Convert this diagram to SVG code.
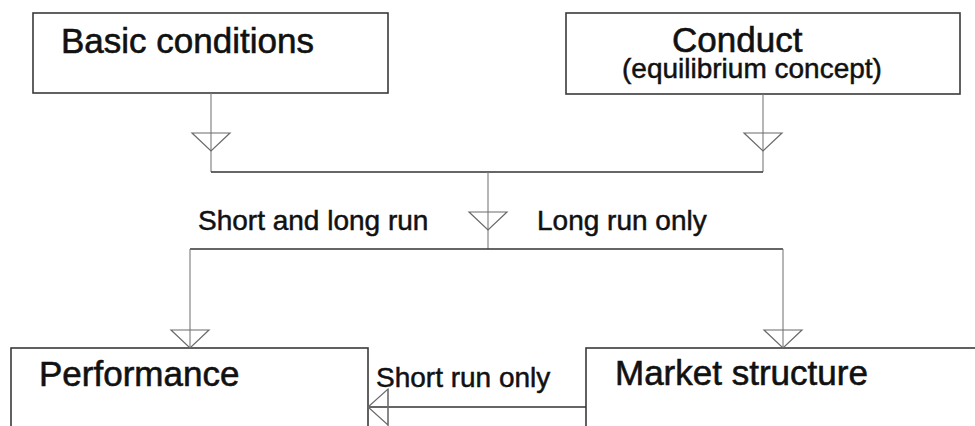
<svg xmlns="http://www.w3.org/2000/svg" xmlns:xlink="http://www.w3.org/1999/xlink" width="975" height="426" viewBox="0 0 975 426">
<style>
.box{fill:#fff;stroke:#3a3a3a;stroke-width:1.6}
.big{font-family:"Liberation Sans",Arial,sans-serif;font-size:35px;fill:#111;stroke:#111;stroke-width:0.6}
.lbl{font-family:"Liberation Sans",Arial,sans-serif;font-size:28px;fill:#111;stroke:#111;stroke-width:0.5}
.sub{font-family:"Liberation Sans",Arial,sans-serif;font-size:28px;fill:#111;stroke:#111;stroke-width:0.5}
.h{fill:none;stroke:#333;stroke-width:1.6}
.v{fill:none;stroke:#7a7a7a;stroke-width:1.1}
.tri{fill:none;stroke:#6a6a6a;stroke-width:1.2}
</style>
<defs>
<polygon id="triDown" class="tri" points="-19,-18 19,-18 0,0"/>
<polygon id="triLeft" class="tri" points="20,-18 20,18 0,0"/>
</defs>
<rect width="975" height="426" fill="#fff"/>
<g id="basic-conditions">
<rect class="box" x="33" y="13" width="355" height="80"/>
<text class="big" x="61" y="53">Basic conditions</text>
</g>
<g id="conduct">
<rect class="box" x="566" y="13" width="394" height="81"/>
<text class="big" x="672" y="52">Conduct</text>
<text class="sub" x="622" y="78">(equilibrium concept)</text>
</g>
<g id="performance">
<rect class="box" x="11" y="348" width="357" height="90"/>
<text class="big" x="39" y="386">Performance</text>
</g>
<g id="market-structure">
<rect class="box" x="586" y="348" width="400" height="90"/>
<text class="big" x="615" y="385">Market structure</text>
</g>
<g id="connectors">
<path class="v" d="M211,93 V172"/>
<path class="v" d="M763,94 V172"/>
<path class="h" d="M211,172 H763"/>
<path class="v" d="M488,172 V249"/>
<path class="h" d="M190,249 H783"/>
<path class="v" d="M190,249 V348"/>
<path class="v" d="M783,249 V348"/>
<path class="h" d="M586,407 H368"/>
<path class="v" d="M388,389 V426"/>
<use xlink:href="#triDown" x="211" y="151"/>
<use xlink:href="#triDown" x="763" y="151"/>
<use xlink:href="#triDown" x="488" y="230"/>
<use xlink:href="#triDown" x="190" y="348"/>
<use xlink:href="#triDown" x="783" y="348"/>
<use xlink:href="#triLeft" x="368" y="407"/>
<text class="lbl" x="198" y="230">Short and long run</text>
<text class="lbl" x="537" y="230">Long run only</text>
<text class="lbl" x="376" y="387" font-size="27">Short run only</text>
</g>
</svg>
